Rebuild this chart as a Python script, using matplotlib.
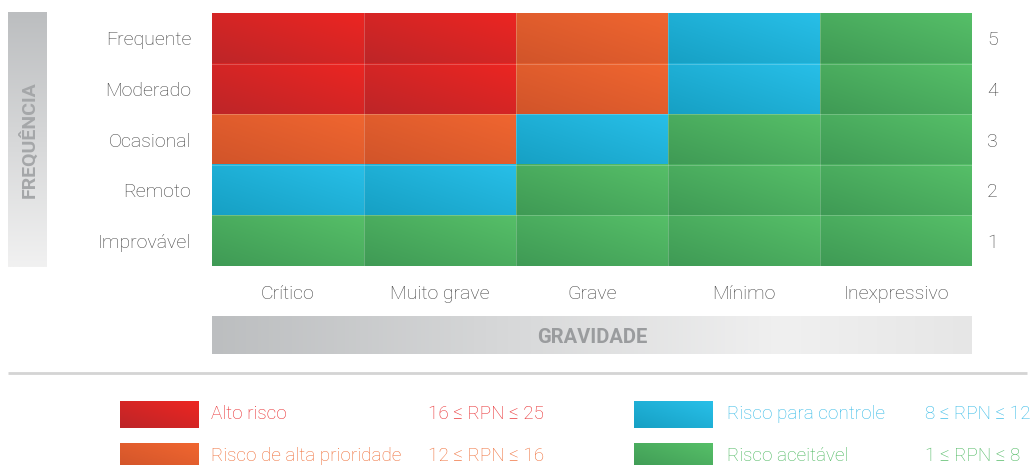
import numpy as np
import matplotlib
matplotlib.use("Agg")
import matplotlib.pyplot as plt
from matplotlib.colors import to_rgb

plt.rcParams['font.family'] = ['Roboto', 'DejaVu Sans']

# ---------------- data ----------------
freq_labels = ["Frequente", "Moderado", "Ocasional", "Remoto", "Improvável"]
freq_values = [5, 4, 3, 2, 1]
sev_labels = ["Crítico", "Muito grave", "Grave", "Mínimo", "Inexpressivo"]
# risk level per cell: 0 alto, 1 alta prioridade, 2 controle, 3 aceitável
risk_matrix = [
    [0, 0, 1, 2, 3],
    [0, 0, 1, 2, 3],
    [1, 1, 2, 3, 3],
    [2, 2, 3, 3, 3],
    [3, 3, 3, 3, 3],
]
legend_labels = ["Alto risco", "Risco de alta prioridade", "Risco para controle", "Risco aceitável"]
legend_ranges = ["16 ≤ RPN ≤ 25", "12 ≤ RPN ≤ 16", "8 ≤ RPN ≤ 12", "1 ≤ RPN ≤ 8"]

# ---------------- styles ----------------
dark_cols = ["#bd2628", "#d1542a", "#16a0c4", "#3f9a55"]
light_cols = ["#ec2522", "#f06630", "#28bfe8", "#56bf68"]
text_cols = ["#e82528", "#ef6a32", "#2fb8e6", "#47b65b"]
W, H = 1033, 465
LW = 'light'
TC = '#3f3f3f'
fig = plt.figure(figsize=(W / 100, H / 100), dpi=100)


def grad_img(c0, c1, n=60, m=120):
    c0, c1 = np.array(to_rgb(c0)), np.array(to_rgb(c1))
    u = np.linspace(0, 1, m)[None, :]
    v = np.linspace(0, 1, n)[:, None]
    t = (u + (1 - v)) / 2
    return c0 + (c1 - c0) * t[..., None]


# canvas axes for decorations in pixel coords
bg = fig.add_axes([0, 0, 1, 1])
bg.set_xlim(0, W)
bg.set_ylim(H, 0)
bg.axis('off')

# frequency bar (vertical gradient)
g = np.linspace(0, 1, 100)[:, None]
c_top, c_bot = np.array(to_rgb("#bcbec0")), np.array(to_rgb("#f1f1f1"))
vimg = c_top + (c_bot - c_top) * g[..., None]
vimg = np.repeat(vimg, 2, axis=1)
bg.imshow(vimg, extent=(8, 47, 267, 13), aspect='auto', origin='upper', zorder=1)
bg.text(29, 140, "FREQUÊNCIA", rotation=90, ha='center', va='center',
        fontsize=14, fontweight='bold', color='#a5a7a9')

# gravity bar (horizontal gradient)
xs = np.linspace(0, 1, 200)
stops = [(0, "#bcbec0"), (0.75, "#f0f0f0"), (1.0, "#e6e6e6")]
hcols = np.zeros((200, 3))
for k in range(200):
    x = xs[k]
    for (a, ca), (b, cb) in zip(stops[:-1], stops[1:]):
        if a <= x <= b:
            t = (x - a) / (b - a)
            hcols[k] = np.array(to_rgb(ca)) * (1 - t) + np.array(to_rgb(cb)) * t
himg = np.repeat(hcols[None, :, :], 2, axis=0)
bg.imshow(himg, extent=(212, 972, 354, 316), aspect='auto', origin='upper', zorder=1)
bg.text(592, 337, "GRAVIDADE", ha='center', va='center', fontsize=14.5,
        fontweight='bold', color='#9a9c9e')

# separator
bg.plot([8, 1027], [373, 373], color='#d4d4d4', lw=2, solid_capstyle='butt')

# legend
leg_pos = [(120, 414), (120, 456), (634, 414), (634, 456)]
for k, (lx, ly) in enumerate(leg_pos):
    bg.imshow(grad_img(dark_cols[k], light_cols[k], 20, 60),
              extent=(lx, lx + 79, ly + 14, ly - 13), aspect='auto', origin='upper', zorder=2)
    tx = lx + 91 if lx < 500 else lx + 93
    rx = 428 if lx < 500 else 925
    bg.text(tx, ly, legend_labels[k], ha='left', va='center', fontsize=13.6,
            fontweight=LW, color=text_cols[k])
    bg.text(rx, ly, legend_ranges[k], ha='left', va='center', fontsize=13.6,
            fontweight=LW, color=text_cols[k])
bg.set_xlim(0, W)
bg.set_ylim(H, 0)

# main heatmap axes
ax = fig.add_axes([212 / W, (H - 266) / H, 760 / W, 253 / H])
nr, nc = len(freq_labels), len(sev_labels)
for i in range(nr):
    for j in range(nc):
        lvl = risk_matrix[i][j]
        ax.imshow(grad_img(dark_cols[lvl], light_cols[lvl]),
                  extent=(j, j + 1, i + 1, i), aspect='auto', origin='upper')
for k in range(1, nc):
    ax.axvline(k, color='white', lw=0.6, alpha=0.25)
for k in range(1, nr):
    ax.axhline(k, color='white', lw=0.6, alpha=0.25)
ax.set_xlim(0, nc)
ax.set_ylim(nr, 0)
for s in ax.spines.values():
    s.set_visible(False)
ax.set_xticks(np.arange(nc) + 0.5)
ax.set_xticklabels(sev_labels, fontsize=14, color=TC, fontweight=LW)
ax.set_yticks(np.arange(nr) + 0.5)
ax.set_yticklabels(freq_labels, fontsize=14, color=TC, fontweight=LW)
ax.tick_params(axis='x', length=0, pad=14)
ax.tick_params(axis='y', length=0, pad=15)

ax2 = ax.twinx()
ax2.set_ylim(nr, 0)
ax2.set_yticks(np.arange(nr) + 0.5)
ax2.set_yticklabels([str(v) for v in freq_values], fontsize=14, color=TC, fontweight=LW)
ax2.tick_params(axis='y', length=0, pad=11)
for s in ax2.spines.values():
    s.set_visible(False)

fig.savefig("out.png", dpi=100)
